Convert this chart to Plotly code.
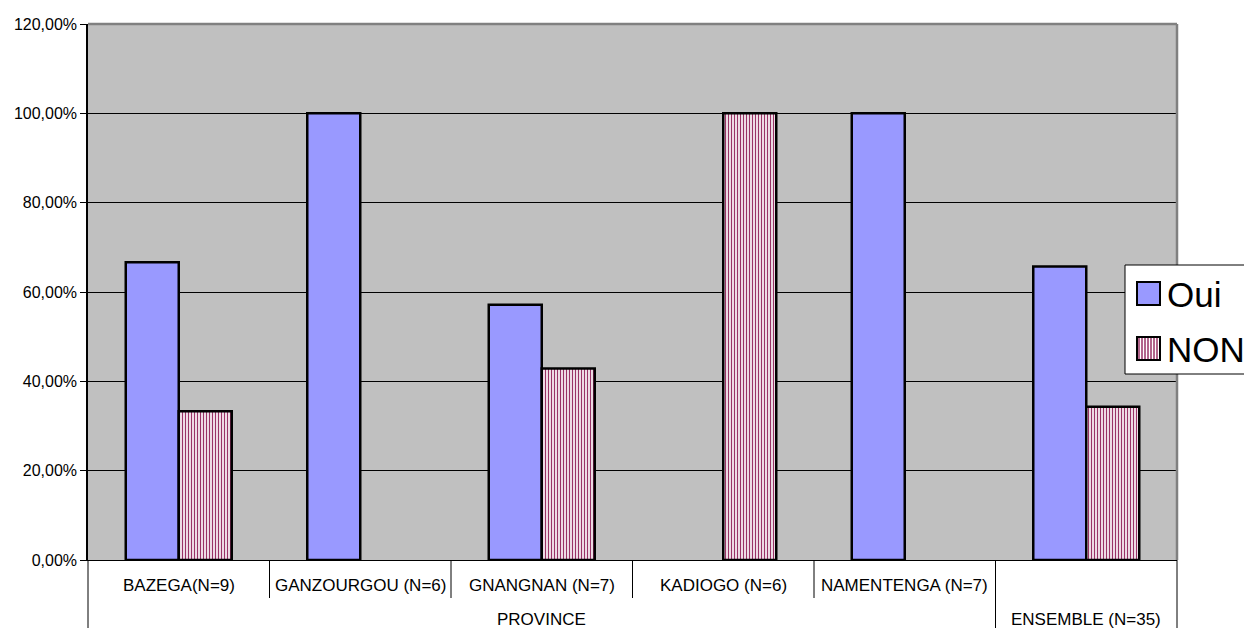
import plotly.graph_objects as go

categories = ["BAZEGA(N=9)", "GANZOURGOU (N=6)", "GNANGNAN (N=7)",
              "KADIOGO (N=6)", "NAMENTENGA (N=7)", "ENSEMBLE (N=35)"]
oui = [66.67, 100.0, 57.14, 0.0, 100.0, 65.71]
non = [33.33, 0.0, 42.86, 100.0, 0.0, 34.29]
group_label = "PROVINCE"
n_province = 5
y_ticks = [0, 20, 40, 60, 80, 100, 120]
y_tick_text = ["0,00%", "20,00%", "40,00%", "60,00%", "80,00%", "100,00%", "120,00%"]

W, H = 1244, 628
L, R, T, B = 88, 1177, 24, 560

fig = go.Figure()
fig.add_trace(go.Bar(x=categories, y=oui, name="Oui",
                     marker=dict(color="#9999FF",
                                 line=dict(color="black",
                                           width=[2.5 if v > 0 else 0 for v in oui]))))
fig.add_trace(go.Bar(x=categories, y=non, name="NON",
                     marker=dict(color="white",
                                 pattern=dict(shape="|", fgcolor="#993366", bgcolor="white",
                                              size=3, solidity=0.45, fillmode="replace"),
                                 line=dict(color="black",
                                           width=[2.5 if v > 0 else 0 for v in non]))))

shapes = []
annotations = []
# top and right gray frame
shapes.append(dict(type="line", xref="paper", yref="paper", x0=0, x1=1, y0=1, y1=1,
                   line=dict(color="#808080", width=2.5)))
shapes.append(dict(type="line", xref="paper", yref="paper", x0=1, x1=1, y0=0, y1=1,
                   line=dict(color="#808080", width=2.5)))

def py(p):
    return (B - p) / (B - T)

def px(p):
    return (p - L) / (R - L)

# category separators (first level)
for i in range(1, len(categories)):
    y_end = 598 if i != n_province else H
    shapes.append(dict(type="line", xref="x", yref="paper", x0=i - 0.5, x1=i - 0.5,
                       y0=0, y1=py(y_end), line=dict(color="black", width=1)))
shapes.append(dict(type="line", xref="paper", yref="paper", x0=0, x1=0,
                   y0=0, y1=py(H), line=dict(color="black", width=1)))
shapes.append(dict(type="line", xref="paper", yref="paper", x0=1, x1=1,
                   y0=0, y1=py(H), line=dict(color="black", width=1)))

lab_font = dict(size=17, color="black", family="Arial")
for i, c in enumerate(categories[:n_province]):
    annotations.append(dict(x=c, xref="x", y=py(585), yref="paper", text=c,
                            yanchor="middle", showarrow=False, font=lab_font))
annotations.append(dict(x=(n_province - 1) / 2, xref="x", y=py(619), yref="paper",
                        text=group_label, yanchor="middle", showarrow=False, font=lab_font))
annotations.append(dict(x=categories[-1], xref="x", y=py(619), yref="paper",
                        text=categories[-1], yanchor="middle", showarrow=False, font=lab_font))

# custom legend
shapes.append(dict(type="rect", xref="paper", yref="paper", x0=px(1125), x1=px(1320),
                   y0=py(374), y1=py(265), fillcolor="white", line=dict(color="black", width=1)))
shapes.append(dict(type="rect", xref="paper", yref="paper", x0=px(1137), x1=px(1160),
                   y0=py(305), y1=py(282), fillcolor="#9999FF", line=dict(color="black", width=2)))
shapes.append(dict(type="rect", xref="paper", yref="paper", x0=px(1137), x1=px(1160),
                   y0=py(360), y1=py(337), fillcolor="white", line=dict(color="black", width=2)))
xs = 1139
while xs < 1159:
    shapes.append(dict(type="line", xref="paper", yref="paper", x0=px(xs), x1=px(xs),
                       y0=py(359), y1=py(338), line=dict(color="#993366", width=1.5)))
    xs += 3
leg_font = dict(size=35, color="black", family="Arial")
annotations.append(dict(x=px(1165), xref="paper", y=py(294), yref="paper", text="Oui",
                        xanchor="left", yanchor="middle", showarrow=False, font=leg_font))
annotations.append(dict(x=px(1165), xref="paper", y=py(349), yref="paper", text="NON",
                        xanchor="left", yanchor="middle", showarrow=False, font=leg_font))

fig.update_layout(
    width=W, height=H,
    margin=dict(l=L, r=W - R, t=T, b=H - B),
    paper_bgcolor="white", plot_bgcolor="#C0C0C0",
    barmode="group", bargap=0.416, bargroupgap=0,
    showlegend=False,
    font=dict(family="Arial", color="black"),
    shapes=shapes, annotations=annotations,
)
fig.update_xaxes(showticklabels=False, ticks="", showline=True, linecolor="black",
                 linewidth=1, showgrid=False)
fig.update_yaxes(range=[0, 120], tickvals=y_ticks, ticktext=y_tick_text,
                 showgrid=True, gridcolor="black", gridwidth=1, zeroline=False,
                 showline=True, linecolor="black", linewidth=1.5, ticks="outside",
                 ticklen=6, tickcolor="black", tickfont=dict(size=16, family="Arial"))

fig.write_html("out.html")
